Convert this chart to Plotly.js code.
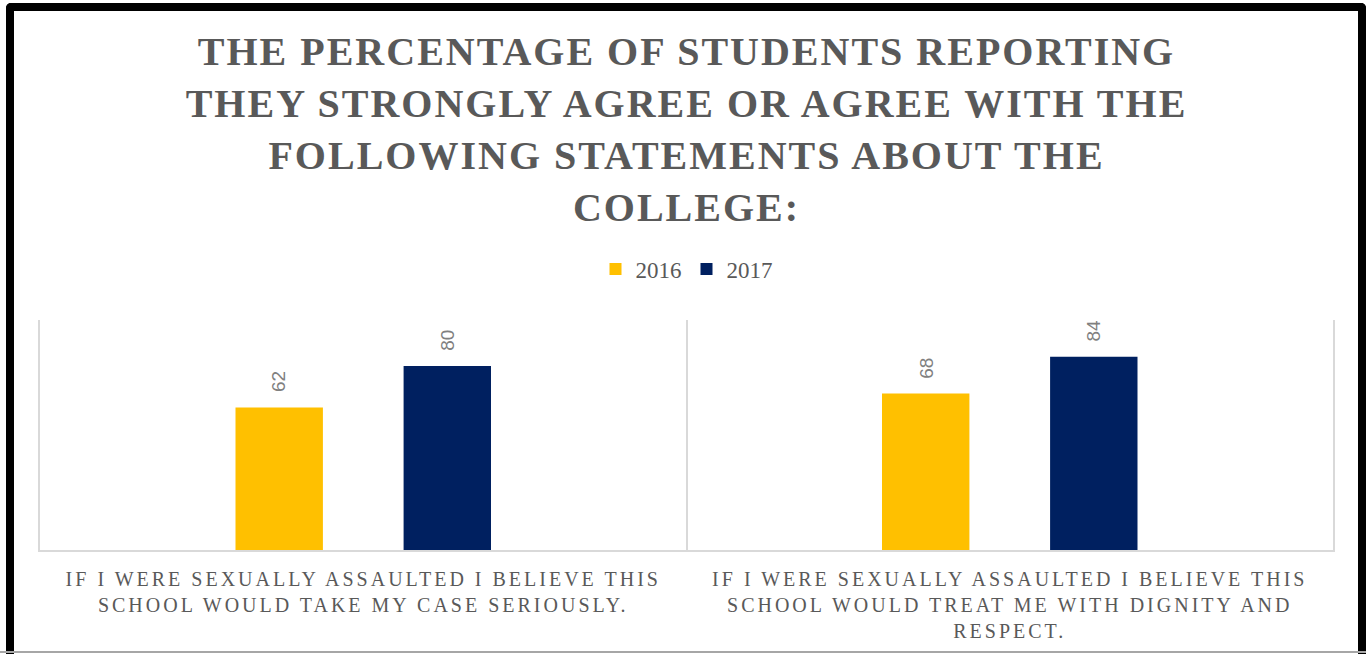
<!DOCTYPE html>
<html><head><meta charset="utf-8">
<script src="https://cdn.plot.ly/plotly-3.0.1.min.js"></script>
<style>
html,body{margin:0;padding:0;background:#fff;}
#chart{width:1371px;height:654px;}
#frame{position:absolute;left:6px;top:3px;width:1344px;height:660px;border:8px solid #000;border-bottom:none;border-radius:5px 5px 0 0;pointer-events:none;}
#base{position:absolute;left:0;top:651px;width:1366px;height:2px;background:#a6a6a6;pointer-events:none;}
.gtitle{letter-spacing:2px;}
.xtick text{letter-spacing:3px;}
</style></head><body>
<div id="chart"></div><div id="frame"></div><div id="base"></div>
<script>
const categories = [
  'If I were sexually assaulted I believe this school would take my case seriously.',
  'If I were sexually assaulted I believe this school would treat me with dignity and respect.'
];
const tickLabels = [
  'IF I WERE SEXUALLY ASSAULTED I BELIEVE THIS<br>SCHOOL WOULD TAKE MY CASE SERIOUSLY.',
  'IF I WERE SEXUALLY ASSAULTED I BELIEVE THIS<br>SCHOOL WOULD TREAT ME WITH DIGNITY AND<br>RESPECT.'
];
const seriesNames = ['2016', '2017'];
const values2016 = [62, 68];
const values2017 = [80, 84];
const seriesColors = ['#FFC000', '#002060'];
const titleText = 'THE PERCENTAGE OF STUDENTS REPORTING<br>THEY STRONGLY AGREE OR AGREE WITH THE<br>FOLLOWING STATEMENTS ABOUT THE<br>COLLEGE:';

const series = [values2016, values2017];
const W = 1371, H = 654;
const margin = {l: 40, r: 38, t: 320, b: 104};
const bargap = 0.48, bargroupgap = 0.48;

const traces = series.map((vals, i) => ({
  type: 'bar',
  name: seriesNames[i],
  x: categories,
  y: vals,
  marker: {color: seriesColors[i]},
  hoverinfo: 'skip'
}));

// data labels placed above each bar (offset computed from the grouped-bar geometry)
const plotW = W - margin.l - margin.r;
const catPx = plotW / categories.length;
const slotPx = catPx * (1 - bargap) / series.length;
const annotations = [];
series.forEach((vals, i) => {
  vals.forEach((v, j) => {
    annotations.push({
      x: categories[j], y: v, xref: 'x', yref: 'y',
      text: String(v), showarrow: false, textangle: -90,
      xanchor: 'center', yanchor: 'bottom',
      xshift: (i - (series.length - 1) / 2) * slotPx, yshift: 13,
      font: {family: 'Liberation Sans, Arial, sans-serif', size: 19, color: '#808080'}
    });
  });
});

const layout = {
  width: W, height: H,
  margin: margin,
  paper_bgcolor: '#ffffff', plot_bgcolor: '#ffffff',
  barmode: 'group', bargap: bargap, bargroupgap: bargroupgap,
  title: {
    text: titleText,
    x: 0.5, xref: 'paper', xanchor: 'center',
    y: 1 - 65 / H, yref: 'container', yanchor: 'top',
    font: {family: 'Liberation Serif, Times New Roman, serif', size: 40, color: '#595959', weight: 'bold'}
  },
  showlegend: true,
  legend: {
    orientation: 'h', x: 0.5, xanchor: 'center', y: 1 + 51 / 230, yanchor: 'middle',
    font: {family: 'Liberation Serif, Times New Roman, serif', size: 23, color: '#595959'},
    itemclick: false, itemdoubleclick: false
  },
  xaxis: {
    type: 'category',
    tickvals: categories, ticktext: tickLabels,
    tickson: 'boundaries', ticks: '',
    showgrid: true, gridcolor: '#d9d9d9', gridwidth: 2,
    showline: true, linecolor: '#d9d9d9', linewidth: 2,
    ticklabelstandoff: 10,
    tickfont: {family: 'Liberation Serif, Times New Roman, serif', size: 20, color: '#595959'},
    fixedrange: true
  },
  yaxis: {
    range: [0, 100],
    showgrid: false, zeroline: false, showticklabels: false, ticks: '',
    showline: true, mirror: true, linecolor: '#d9d9d9', linewidth: 2,
    fixedrange: true
  },
  annotations: annotations
};

Plotly.newPlot('chart', traces, layout, {displayModeBar: false, staticPlot: true});
</script>
</body></html>
